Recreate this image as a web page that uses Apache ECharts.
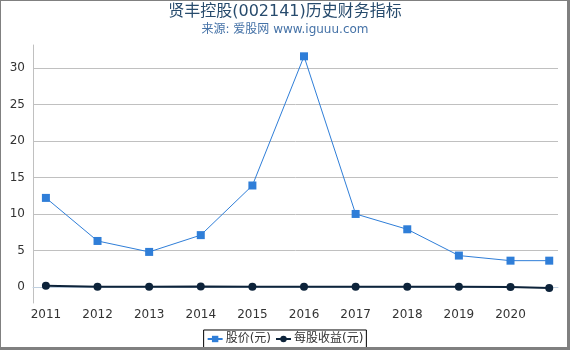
<!DOCTYPE html>
<html><head><meta charset="utf-8">
<script src="https://cdn.jsdelivr.net/npm/echarts@6/dist/echarts.min.js"></script>
<style>
html,body{margin:0;padding:0;background:#fff;}
#wrap{position:absolute;left:0;top:0;width:570px;height:350px;box-sizing:border-box;border-left:1px solid #808080;border-top:1px solid #808080;border-right:3px solid #808080;border-bottom:3px solid #808080;}
#c{position:absolute;left:0;top:0;width:570px;height:350px;}
</style></head>
<body><div id="c"></div><div id="wrap"></div>
<script>
const titleText = '贤丰控股(002141)历史财务指标';
const subText = '来源: 爱股网 www.iguuu.com';
const xPos = [2011, 2012, 2013, 2014, 2015, 2016, 2017, 2018, 2019, 2020, 2020.75];
const yearTicks = [2011, 2012, 2013, 2014, 2015, 2016, 2017, 2018, 2019, 2020];
const priceVals = [12.2, 6.3, 4.8, 7.1, 13.9, 31.6, 10.0, 7.9, 4.3, 3.6, 3.6];
const epsVals = [0.15, 0.02, 0.01, 0.05, 0.01, 0.03, 0.01, 0.01, 0.01, 0.0, -0.15];
const yTicks = [0, 5, 10, 15, 20, 25, 30];
const seriesNames = ['股价(元)', '每股收益(元)'];

const font = 'DejaVu Sans, Noto Sans CJK SC, sans-serif';
const chart = echarts.init(document.getElementById('c'), null, {renderer: 'canvas'});
chart.setOption({
  animation: false,
  backgroundColor: '#fff',
  title: {
    text: titleText, subtext: subText, left: 'center', top: -1,
    itemGap: 4,
    textStyle: {fontFamily: font, fontSize: 16, fontWeight: 'normal', color: '#274b6d'},
    subtextStyle: {fontFamily: font, fontSize: 12, color: '#4572a7'}
  },
  legend: {
    bottom: 2, left: 'center',
    borderColor: '#000', borderWidth: 1, borderRadius: 0,
    padding: [3, 3, 3, 3], itemGap: 4, itemWidth: 15, itemHeight: 8,
    textStyle: {fontFamily: font, fontSize: 12, color: '#333', padding: [0, 0, 0, -2]},
    data: seriesNames
  },
  grid: {left: 33, right: 12, top: 45, bottom: 47},
  xAxis: {
    type: 'value', min: 2010.75, max: 2020.92,
    axisLine: {show: true, lineStyle: {color: '#c0d0e0', width: 1}},
    axisTick: {show: true, inside: true, length: 4, lineStyle: {color: '#c0d0e0'}, customValues: yearTicks},
    axisLabel: {fontFamily: font, fontSize: 12, color: '#333', margin: 6, customValues: yearTicks, formatter: v => String(v)},
    splitLine: {show: false}
  },
  yAxis: {
    type: 'value', min: -2.2, max: 33.15,
    axisLine: {show: true, lineStyle: {color: '#c0c0c0'}},
    axisTick: {show: false, customValues: yTicks},
    axisLabel: {fontFamily: font, fontSize: 12, color: '#333', margin: 8, customValues: yTicks},
    splitLine: {show: true, lineStyle: {color: '#c0c0c0', width: 1}}
  },
  series: [
    {
      name: seriesNames[0], type: 'line',
      data: xPos.map((x, i) => [x, priceVals[i]]),
      symbol: 'rect', symbolSize: 8,
      itemStyle: {color: '#2f7ed8'},
      lineStyle: {color: '#2f7ed8', width: 1}
    },
    {
      name: seriesNames[1], type: 'line',
      data: xPos.map((x, i) => [x, epsVals[i]]),
      symbol: 'circle', symbolSize: 8,
      itemStyle: {color: '#0d233a'},
      lineStyle: {color: '#0d233a', width: 2}
    }
  ]
});
</script></body></html>
